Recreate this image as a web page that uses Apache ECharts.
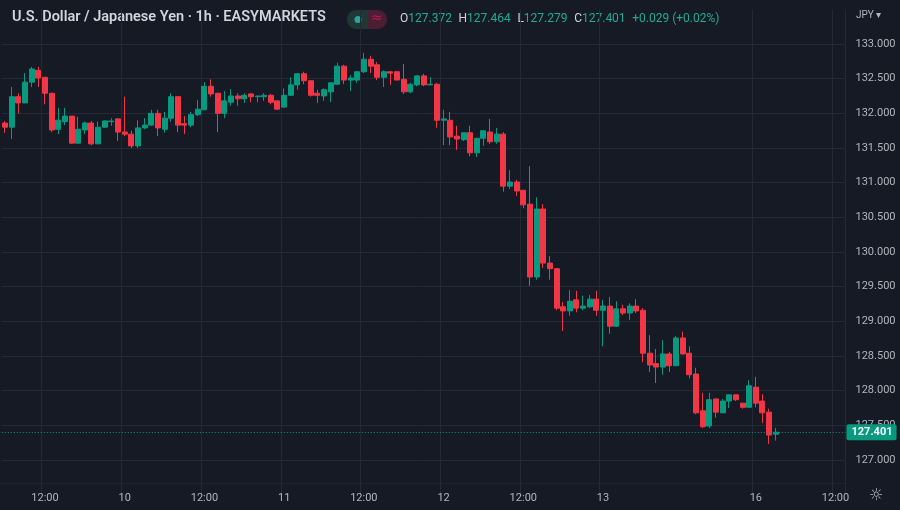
<!DOCTYPE html>
<html><head><meta charset="utf-8">
<script src="https://cdn.jsdelivr.net/npm/echarts@6/dist/echarts.min.js"></script>
<style>html,body{margin:0;padding:0;background:#161a25;}#c{width:900px;height:510px;}</style>
</head><body><div id="c"></div>
<script>
const opens=[131.86,131.80,132.24,132.15,132.45,132.62,132.52,132.29,131.77,131.88,131.96,131.57,131.76,131.86,131.56,131.80,131.88,131.92,131.73,131.70,131.53,131.79,131.83,132.00,131.77,131.93,132.24,131.85,131.83,131.98,132.05,132.39,132.29,132.00,132.16,132.25,132.21,132.28,132.24,132.24,132.26,132.18,132.09,132.26,132.41,132.57,132.47,132.29,132.25,132.31,132.42,132.68,132.48,132.48,132.60,132.78,132.70,132.52,132.60,132.60,132.49,132.31,132.41,132.54,132.41,132.42,131.90,131.90,131.67,131.62,131.72,131.43,131.64,131.73,131.59,131.70,130.95,131.01,130.89,130.69,129.64,130.62,129.84,129.76,129.21,129.15,129.31,129.19,129.21,129.32,129.16,129.22,128.93,129.18,129.12,129.22,129.16,128.54,128.39,128.34,128.53,128.36,128.76,128.54,128.24,127.71,127.49,127.88,127.68,127.85,127.94,127.82,127.76,128.05,127.85,127.69,127.372];
const closes=[131.80,132.24,132.15,132.45,132.64,132.51,132.29,131.76,131.90,131.96,131.57,131.77,131.86,131.56,131.80,131.89,131.89,131.73,131.70,131.53,131.79,131.83,132.00,131.79,131.93,132.24,131.83,131.83,131.98,132.06,132.39,132.28,132.00,132.18,132.25,132.21,132.26,132.24,132.25,132.26,132.16,132.06,132.26,132.41,132.57,132.47,132.26,132.26,132.34,132.44,132.68,132.48,132.51,132.60,132.78,132.68,132.52,132.60,132.58,132.48,132.31,132.42,132.54,132.41,132.42,131.90,131.92,131.66,131.63,131.72,131.43,131.64,131.75,131.59,131.70,130.95,131.01,130.88,130.68,129.64,130.62,129.84,129.76,129.19,129.15,129.29,129.19,129.22,129.32,129.16,129.22,128.93,129.18,129.12,129.22,129.15,128.54,128.37,128.34,128.53,128.36,128.76,128.53,128.23,127.68,127.48,127.87,127.69,127.85,127.94,127.87,127.76,128.07,127.82,127.68,127.36,127.401];
const lows=[131.72,131.63,132.00,132.15,132.38,132.38,132.13,131.73,131.70,131.83,131.56,131.56,131.70,131.54,131.56,131.79,131.82,131.60,131.67,131.50,131.50,131.77,131.82,131.67,131.72,131.88,131.73,131.70,131.80,131.96,132.05,132.24,131.73,131.93,132.11,132.11,132.15,132.16,132.16,132.18,132.13,132.05,132.08,132.25,132.34,132.42,132.24,132.15,132.18,132.16,132.41,132.42,132.32,132.44,132.58,132.58,132.48,132.38,132.41,132.48,132.28,132.29,132.39,132.39,132.41,131.79,131.54,131.54,131.47,131.60,131.38,131.37,131.53,131.56,131.56,130.87,130.91,130.81,130.63,129.51,129.60,129.77,129.60,129.16,128.86,129.08,129.13,129.16,129.19,129.08,128.64,128.82,128.92,129.09,129.02,129.12,128.41,128.27,128.11,128.23,128.27,128.36,128.52,128.18,127.66,127.46,127.46,127.61,127.68,127.75,127.85,127.74,127.76,127.76,127.53,127.23,127.279];
const highs=[131.89,132.38,132.29,132.58,132.67,132.67,132.52,132.29,132.08,132.08,131.96,131.95,131.88,131.89,131.88,131.90,131.93,131.93,132.24,131.75,131.90,131.93,132.05,132.05,132.02,132.29,132.24,131.96,132.02,132.19,132.45,132.49,132.29,132.32,132.35,132.29,132.29,132.29,132.25,132.29,132.28,132.18,132.36,132.52,132.58,132.60,132.47,132.34,132.36,132.44,132.73,132.70,132.55,132.61,132.87,132.83,132.74,132.62,132.60,132.61,132.71,132.44,132.55,132.57,132.52,132.44,132.05,132.02,131.82,131.72,131.82,131.64,131.76,131.92,131.79,131.73,131.18,131.04,130.89,131.24,130.79,130.69,129.94,129.77,129.28,129.45,129.44,129.37,129.38,129.44,129.31,129.35,129.29,129.24,129.26,129.32,129.19,128.80,128.60,128.73,128.56,128.79,128.85,128.64,128.33,127.97,127.97,127.89,127.88,127.94,127.94,127.82,128.15,128.20,127.95,127.74,127.464];
const tickLabels={6:'12:00',18:'10',30:'12:00',42:'11',54:'12:00',66:'12',78:'12:00',90:'13',113:'16',125:'12:00'};
const nCats=127;
const lastPrice=127.401;

const cats=[];for(let i=0;i<nCats;i++)cats.push(tickLabels[i]||'');
const data=opens.map((o,i)=>[o,closes[i],lows[i],highs[i]]);
const UP='#089981',DOWN='#f23645',TXT='#b2b5be',GRID='#252935';
const chart=echarts.init(document.getElementById('c'));
const isTick=(i)=>tickLabels[i]!==undefined;
chart.setOption({
  backgroundColor:'#161a25',animation:false,
  textStyle:{fontFamily:'Roboto, "Noto Sans", sans-serif'},
  grid:{left:1.8,width:843.7,top:9.33,height:485.33},
  xAxis:{type:'category',data:cats,boundaryGap:true,
    axisLine:{show:false},axisTick:{show:false},
    axisLabel:{interval:(i)=>isTick(i),color:TXT,fontSize:11,margin:-2,formatter:v=>v},
    splitLine:{show:true,interval:(i)=>isTick(i),lineStyle:{color:GRID,width:1}}},
  yAxis:{type:'value',position:'right',min:126.5,max:133.5,interval:0.5,scale:true,
    axisLine:{show:false},axisTick:{show:false},
    axisLabel:{color:TXT,fontSize:11,margin:10,showMinLabel:false,showMaxLabel:false,formatter:v=>v.toFixed(3)},
    splitLine:{show:true,showMinLine:false,showMaxLine:false,lineStyle:{color:GRID,width:1}}},
  series:[{type:'candlestick',data:data,barMaxWidth:6,barWidth:5.5,
    itemStyle:{color:UP,color0:DOWN,borderColor:UP,borderColor0:DOWN,borderWidth:1},
    markLine:{symbol:'none',silent:true,animation:false,
      lineStyle:{color:UP,type:[1,2],width:1},
      label:{position:'end',distance:1,formatter:lastPrice.toFixed(3),color:'#ffffff',backgroundColor:UP,
        padding:[3,4,2,5],fontSize:11,fontWeight:'bold',borderRadius:2},
      data:[{yAxis:lastPrice}]}}]
  ,graphic:[
    {type:'rect',shape:{x:0,y:483,width:846,height:1},style:{fill:'#1f232e'}},
    {type:'text',left:12,top:10,style:{text:'U.S. Dollar / Japanese Yen · 1h · EASYMARKETS',fill:'#d1d4dc',fontSize:14.5,fontWeight:600,fontFamily:'Roboto, sans-serif'}},
    {type:'rect',shape:{x:347,y:10,width:21,height:19,r:[9,0,0,9]},style:{fill:'#1f3833'}},
    {type:'rect',shape:{x:368,y:10,width:19,height:19,r:[0,9,9,0]},style:{fill:'#4a1f31'}},
    {type:'circle',shape:{cx:358,cy:19.5,r:3.5},style:{fill:'#26a69a'}},
    {type:'text',left:371,top:11,style:{text:'≈',fill:'#c2185b',fontSize:14,fontFamily:'DejaVu Sans'}},
    {type:'text',left:400,top:13,style:{
      text:'{l|O}{v|127.372}  {l|H}{v|127.464}  {l|L}{v|127.279}  {l|C}{v|127.401}  {v|+0.029 (+0.02%)}',
      rich:{l:{fill:'#d1d4dc',fontSize:12,fontFamily:'Roboto, sans-serif'},v:{fill:'#22ab94',fontSize:12,fontFamily:'Roboto, sans-serif'}}}},
    {type:'text',left:856,top:10,style:{text:'JPY ▾',fill:TXT,fontSize:10,fontFamily:'Roboto, sans-serif'}},
    {type:'text',left:869,top:488,style:{text:'☼',fill:TXT,fontSize:16,fontFamily:'DejaVu Sans'}}
  ]
});
</script></body></html>
